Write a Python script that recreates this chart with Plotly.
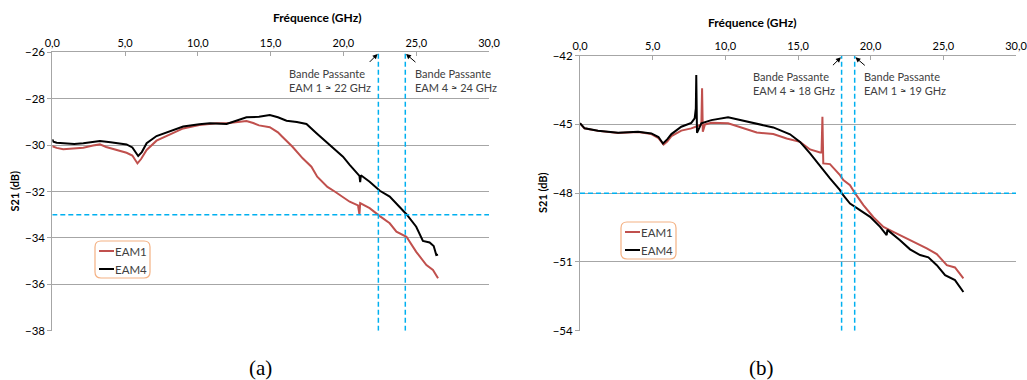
import plotly.graph_objects as go

# ---------------- data: panel (a) ----------------
fa_eam1 = [0.0, 0.3, 0.75, 1.5, 2.13, 2.8, 3.27, 3.7, 4.2, 5.1, 5.5, 5.85, 6.1, 6.48, 7.16, 8.08, 8.99,
           10.1, 11.3, 12.0, 12.7, 13.34, 13.8, 14.2, 14.94, 15.5, 15.8, 16.5, 17.2, 17.8, 18.2, 18.9,
           19.4, 19.75, 20.43, 21.0, 21.1, 21.15, 21.8, 22.5, 23.18, 23.64, 24.33, 25.0, 25.7, 26.15, 26.5]
sa_eam1 = [-30.05, -30.12, -30.18, -30.15, -30.11, -30.02, -29.97, -30.08, -30.17, -30.33, -30.45, -30.79,
           -30.6, -30.21, -29.81, -29.53, -29.28, -29.13, -29.06, -29.06, -29.02, -28.96, -29.05, -29.15,
           -29.23, -29.45, -29.64, -30.07, -30.57, -30.93, -31.36, -31.8, -32.0, -32.15, -32.44, -32.6,
           -33.0, -32.5, -32.72, -33.06, -33.37, -33.73, -33.95, -34.6, -35.17, -35.38, -35.74]

fa_eam4 = [0.0, 0.07, 0.3, 0.75, 1.5, 2.13, 2.7, 3.27, 4.0, 4.6, 5.1, 5.5, 5.9, 6.15, 6.48, 7.16, 8.08,
           8.99, 10.1, 10.82, 11.97, 12.7, 13.34, 14.2, 14.94, 15.5, 16.09, 16.8, 17.46, 18.15, 19.06,
           19.97, 20.43, 20.89, 21.1, 21.15, 21.2, 21.8, 22.5, 23.18, 23.86, 24.33, 25.0, 25.46, 25.92,
           26.2, 26.38, 26.5]
sa_eam4 = [-29.75, -29.85, -29.9, -29.92, -29.95, -29.92, -29.88, -29.82, -29.88, -29.93, -29.97, -30.1,
           -30.47, -30.3, -29.92, -29.61, -29.42, -29.2, -29.1, -29.06, -29.09, -28.95, -28.8, -28.78,
           -28.7, -28.8, -28.95, -29.0, -29.09, -29.49, -30.0, -30.5, -30.85, -31.15, -31.33, -31.6,
           -31.3, -31.58, -31.97, -32.22, -32.65, -32.98, -33.52, -34.13, -34.2, -34.35, -34.74, -34.72]

bw_a = [22.4, 24.25]          # bandwidth markers (GHz)
thr_a = -33.0                 # -3 dB level
yticks_a = [-26, -28, -30, -32, -34, -36, -38]
labels_a = ["Bande Passante<br>EAM 1 ≈ 22 GHz", "Bande Passante<br>EAM 4 ≈ 24 GHz"]

# ---------------- data: panel (b) ----------------
fb_eam1 = [0.0, 0.3, 1.24, 2.62, 4.0, 4.91, 5.4, 5.75, 6.0, 6.29, 6.97, 7.66, 8.1, 8.35, 8.4, 8.45, 8.6,
           9.04, 10.19, 11.01, 12.16, 13.3, 14.22, 15.14, 15.83, 16.52, 16.62, 16.68, 16.74, 17.2, 17.89,
           18.12, 18.58, 18.93, 19.5, 20.19, 20.88, 21.56, 22.25, 23.17, 23.86, 24.55, 25.24, 25.8, 26.38]
sb_eam1 = [-44.95, -45.17, -45.28, -45.37, -45.33, -45.42, -45.6, -45.88, -45.75, -45.51, -45.27, -45.17,
           -45.07, -45.0, -43.42, -45.32, -45.0, -44.93, -44.95, -45.13, -45.35, -45.42, -45.61, -45.76,
           -46.09, -46.22, -46.22, -44.66, -46.7, -46.73, -47.21, -47.43, -47.65, -48.01, -48.52, -49.05,
           -49.47, -49.69, -49.9, -50.17, -50.41, -50.66, -51.14, -51.24, -51.72]

fb_eam4 = [0.0, 0.32, 1.24, 2.62, 4.0, 4.91, 5.4, 5.71, 6.0, 6.29, 6.97, 7.66, 7.89, 7.97, 8.0, 8.05,
           8.1, 8.35, 9.04, 10.19, 11.01, 12.16, 13.3, 14.45, 15.14, 15.83, 16.52, 17.2, 17.89, 18.0,
           18.58, 18.93, 19.27, 19.96, 20.65, 21.1, 21.15, 22.02, 22.71, 23.4, 23.97, 24.55, 25.12,
           25.8, 26.38]
sb_eam4 = [-44.95, -45.17, -45.27, -45.36, -45.32, -45.39, -45.55, -45.83, -45.65, -45.42, -45.1, -44.93,
           -44.73, -44.3, -42.84, -45.36, -45.3, -44.95, -44.81, -44.69, -44.81, -44.98, -45.13, -45.43,
           -45.76, -46.26, -46.82, -47.35, -47.86, -48.0, -48.45, -48.59, -48.74, -49.03, -49.47, -49.83,
           -49.6, -50.05, -50.45, -50.7, -50.8, -51.14, -51.58, -51.79, -52.31]

bw_b = [18.0, 18.9]
thr_b = -48.0
yticks_b = [-42, -45, -48, -51, -54]
labels_b = ["Bande Passante<br>EAM 4 ≈ 18 GHz", "Bande Passante<br>EAM 1 ≈ 19 GHz"]

xticks = [0, 5, 10, 15, 20, 25, 30]
xticklabels = ["0,0", "5,0", "10,0", "15,0", "20,0", "25,0", "30,0"]
series_names = ["EAM1", "EAM4"]

# ---------------- styling ----------------
RED = "#C0504D"
BLACK = "#000000"
BLUE = "#00B0F0"
GRID = "#A6A6A6"
TXT = "#404040"
FONT = "Lato"
DASH = "5px,3px"

OFF = 0                       # page margin removed by the post script below
W, H = 1027, 380


def px(x, y):
    """screen pixel (as in the reference) -> paper coordinates"""
    return (x - OFF) / W, 1 - (y - OFF) / H


dom_a = dict(x=[px(52.3, 0)[0], px(489, 0)[0]], y=[px(0, 330.7)[1], px(0, 52.3)[1]])
dom_b = dict(x=[px(580, 0)[0], px(1016, 0)[0]], y=[px(0, 330.7)[1], px(0, 55.7)[1]])

fig = go.Figure()

series_colors = [RED, BLACK]
panel_data = [(("x", "y"), [(fa_eam1, sa_eam1), (fa_eam4, sa_eam4)]),
              (("x2", "y2"), [(fb_eam1, sb_eam1), (fb_eam4, sb_eam4)])]
for (xa, ya), series in panel_data:
    for name, color, (fx, sy) in zip(series_names, series_colors, series):
        fig.add_trace(go.Scatter(x=fx, y=sy, name=name, mode="lines", showlegend=False,
                                 line=dict(color=color, width=2), xaxis=xa, yaxis=ya))

shapes = []
annotations = []


def panel_marks(xref, yref, bw, thr, yt, labels):
    ymin, ymax = min(yt), max(yt)
    for b in bw:
        shapes.append(dict(type="line", xref=xref, yref=yref, x0=b, x1=b, y0=ymin, y1=ymax,
                           line=dict(color=BLUE, width=1.5, dash=DASH), layer="above"))
    shapes.append(dict(type="line", xref=xref, yref=yref, x0=0, x1=30, y0=thr, y1=thr,
                       line=dict(color=BLUE, width=1.5, dash=DASH), layer="above"))
    span = ymax - ymin
    annotations.append(dict(xref=xref, yref=yref, x=bw[0] - 0.35, y=ymax - 0.1 * span,
                            text=labels[0], showarrow=False, xanchor="right", yanchor="middle",
                            align="left", font=dict(family=FONT, size=11, color=TXT)))
    annotations.append(dict(xref=xref, yref=yref, x=bw[1] + 0.5, y=ymax - 0.1 * span,
                            text=labels[1], showarrow=False, xanchor="left", yanchor="middle",
                            align="left", font=dict(family=FONT, size=11, color=TXT)))
    annotations.append(dict(xref=xref, yref=yref, axref=xref, ayref=yref,
                            x=bw[0] - 0.05, y=ymax - 0.006 * span, ax=bw[0] - 0.7, ay=ymax - 0.04 * span,
                            text="", showarrow=True, arrowhead=2, arrowsize=1, arrowwidth=1,
                            arrowcolor="#000000"))
    annotations.append(dict(xref=xref, yref=yref, axref=xref, ayref=yref,
                            x=bw[1] + 0.05, y=ymax - 0.006 * span, ax=bw[1] + 0.8, ay=ymax - 0.04 * span,
                            text="", showarrow=True, arrowhead=2, arrowsize=1, arrowwidth=1,
                            arrowcolor="#000000"))


panel_marks("x", "y", bw_a, thr_a, yticks_a, labels_a)
panel_marks("x2", "y2", bw_b, thr_b, yticks_b, labels_b)


def rounded_rect(x0, y0, x1, y1, r):
    def p(x, y):
        a, b = px(x, y)
        return f"{a:.5f},{b:.5f}"
    return (f"M {p(x0 + r, y0)} L {p(x1 - r, y0)} Q {p(x1, y0)} {p(x1, y0 + r)} "
            f"L {p(x1, y1 - r)} Q {p(x1, y1)} {p(x1 - r, y1)} L {p(x0 + r, y1)} "
            f"Q {p(x0, y1)} {p(x0, y1 - r)} L {p(x0, y0 + r)} Q {p(x0, y0)} {p(x0 + r, y0)} Z")


def legend_box(x0, y0):
    shapes.append(dict(type="path", xref="paper", yref="paper",
                       path=rounded_rect(x0, y0, x0 + 55, y0 + 37, 6),
                       line=dict(color="#F4B183", width=1.2), fillcolor="white", layer="above"))
    for i, (name, color) in enumerate(zip(series_names, series_colors)):
        yy = y0 + 10 + i * 18
        a0, b0 = px(x0 + 4, yy)
        a1, _ = px(x0 + 19, yy)
        shapes.append(dict(type="line", xref="paper", yref="paper", x0=a0, x1=a1, y0=b0, y1=b0,
                           line=dict(color=color, width=2), layer="above"))
        tx, ty = px(x0 + 19, yy)
        annotations.append(dict(xref="paper", yref="paper", x=tx, y=ty, text=name, showarrow=False,
                                xanchor="left", yanchor="middle", xshift=-1,
                                font=dict(family=FONT, size=11.5, color=TXT)))


legend_box(95, 241)
legend_box(621, 222)

# captions
for cx, cap in [(247, "(a)"), (776, "(b)")]:
    ax_, ay_ = px(cx, 368)
    annotations.append(dict(xref="paper", yref="paper", x=ax_, y=ay_, text=cap, showarrow=False,
                            yanchor="middle", font=dict(family="Liberation Serif", size=21, color="#000000")))
# x-axis titles (top)
for cx, cy in [((52.3 + 489) / 2, 17), ((580 + 1016) / 2, 23)]:
    ax_, ay_ = px(cx, cy)
    annotations.append(dict(xref="paper", yref="paper", x=ax_, y=ay_, text="<b>Fréquence (GHz)</b>",
                            showarrow=False, yanchor="middle",
                            font=dict(family=FONT, size=12, color="#000000")))
# y-axis titles
for cx, cy in [(14, 191.5), (542, 193)]:
    ax_, ay_ = px(cx, cy)
    annotations.append(dict(xref="paper", yref="paper", x=ax_, y=ay_, text="<b>S21 (dB)</b>",
                            showarrow=False, textangle=-90, xanchor="center", yanchor="middle",
                            font=dict(family=FONT, size=11, color="#000000")))

xax = dict(range=[0, 30], tickvals=xticks, ticktext=xticklabels, side="top", showgrid=False,
           showline=True, linecolor=GRID, linewidth=1, ticks="inside", ticklen=4, tickcolor=GRID,
           tickfont=dict(family=FONT, size=11, color="#000000"), zeroline=False, fixedrange=True,
           automargin=False, ticklabeloverflow="allow")
yax_common = dict(showgrid=True, gridcolor=GRID, gridwidth=1, showline=True, linecolor=GRID, linewidth=1,
                  ticks="outside", ticklen=4, tickcolor=GRID, zeroline=False, automargin=False,
                  tickfont=dict(family=FONT, size=11.5, color="#000000"), ticklabeloverflow="allow")

fig.update_layout(
    width=W, height=H, margin=dict(l=0, r=0, t=0, b=0, autoexpand=False),
    paper_bgcolor="white", plot_bgcolor="white",
    xaxis=dict(domain=dom_a["x"], anchor="y", **xax),
    yaxis=dict(domain=dom_a["y"], anchor="x", range=[min(yticks_a), max(yticks_a)], tickvals=yticks_a,
               **yax_common),
    xaxis2=dict(domain=dom_b["x"], anchor="y2", **xax),
    yaxis2=dict(domain=dom_b["y"], anchor="x2", range=[min(yticks_b), max(yticks_b)], tickvals=yticks_b,
                **yax_common),
    shapes=shapes, annotations=annotations, showlegend=False,
)

fig.write_html("out.html", config={"displayModeBar": False},
               post_script="document.body.style.margin='0';document.body.style.overflow='hidden';")
